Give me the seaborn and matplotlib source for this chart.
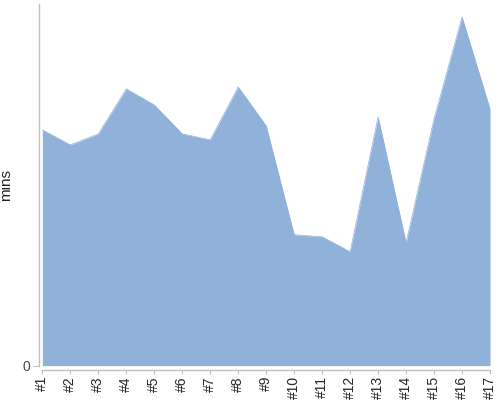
import matplotlib
matplotlib.use("Agg")
import matplotlib.pyplot as plt
import pandas as pd
import seaborn as sns

labels = ['#1', '#2', '#3', '#4', '#5', '#6', '#7', '#8', '#9', '#10',
          '#11', '#12', '#13', '#14', '#15', '#16', '#17']
mins = [23.6, 22.1, 23.2, 27.7, 26.1, 23.2, 22.6, 27.9, 24.0, 13.1,
        12.9, 11.4, 24.9, 12.3, 24.7, 34.9, 25.7]

df = pd.DataFrame({'run': labels, 'mins': mins})
df['pos'] = range(len(df))

sns.set_style("white")
plt.rcParams['font.family'] = ['Liberation Sans', 'DejaVu Sans']

fig = plt.figure(figsize=(5, 4), dpi=100)
ax = fig.add_axes([0.078, 0.086, 0.902, 0.904])

ax.fill_between(df['pos'], df['mins'], 0, color='#8fb1da', linewidth=0)
sns.lineplot(x='pos', y='mins', data=df, ax=ax, color='#8fb1da', lw=0.5)

ax.set_xlim(-0.12, 16)
ax.set_ylim(0, 36.2)
ax.set_xticks(df['pos'])
ax.set_xticklabels(df['run'], fontsize=6.3, color='#222222')
ax.set_yticks([0])
ax.set_yticklabels(['0'], fontsize=10, color='#444444')
ax.set_xlabel('')
ax.set_ylabel('mins', fontsize=11, color='#222222')
ax.yaxis.set_label_coords(-0.058, 0.5)

sns.despine(ax=ax)
for s in ['left', 'bottom']:
    ax.spines[s].set_color('#c0c0c0')
    ax.spines[s].set_linewidth(1)
ax.spines['bottom'].set_position(('outward', 3))
ax.spines['bottom'].set_bounds(0, 16)
ax.tick_params(axis='x', length=3, color='#c0c0c0', pad=1.5, bottom=True,
               labelrotation=90)
ax.tick_params(axis='y', length=4, color='#c0c0c0', pad=2, left=True)

fig.savefig('out.png', dpi=100)
